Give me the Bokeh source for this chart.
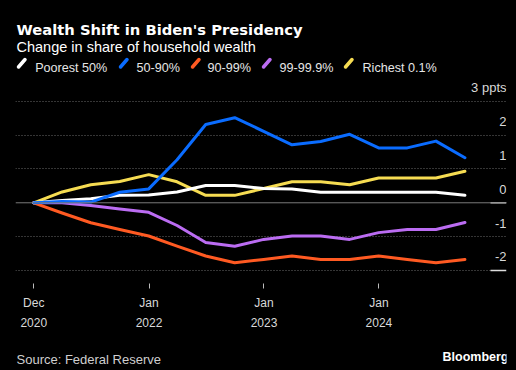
import numpy as np
import pandas as pd
from bokeh.plotting import figure
from bokeh.layouts import column
from bokeh.models import (Range1d, FixedTicker, Grid, Span, Label, Arrow,
                          DatetimeTickFormatter, ColumnDataSource, LabelSet)
from bokeh.core.properties import value
from bokeh.embed import file_html
from bokeh.resources import INLINE

# ---------------- data ----------------
quarters = ["2020-12-31", "2021-03-31", "2021-06-30", "2021-09-30",
            "2021-12-31", "2022-03-31", "2022-06-30", "2022-09-30",
            "2022-12-31", "2023-03-31", "2023-06-30", "2023-09-30",
            "2023-12-31", "2024-03-31", "2024-06-30", "2024-09-30"]

series_names = ["Poorest 50%", "50-90%", "90-99%", "99-99.9%", "Richest 0.1%"]

poorest_50 = [0, 0.07, 0.12, 0.22, 0.23, 0.32, 0.51, 0.51, 0.42, 0.41,
              0.31, 0.31, 0.31, 0.31, 0.31, 0.22]
p50_90 = [0, 0.04, 0.02, 0.31, 0.41, 1.27, 2.31, 2.51, 2.11, 1.71,
          1.81, 2.02, 1.62, 1.62, 1.82, 1.33]
p90_99 = [0, -0.30, -0.59, -0.79, -0.98, -1.28, -1.57, -1.77, -1.67, -1.57,
          -1.67, -1.67, -1.57, -1.67, -1.77, -1.67]
p99_999 = [0, 0, -0.08, -0.18, -0.28, -0.67, -1.17, -1.28, -1.08, -0.98,
           -0.98, -1.08, -0.88, -0.79, -0.79, -0.58]
richest_01 = [0, 0.32, 0.53, 0.63, 0.83, 0.62, 0.22, 0.22, 0.42, 0.62,
              0.62, 0.53, 0.73, 0.73, 0.73, 0.93]

y_ticks = [-2, -1, 0, 1, 2, 3]
y_tick_labels = ["-2", "-1", "0", "1", "2", "3 ppts"]
x_tick_dates = ["2020-12-31", "2022-01-01", "2023-01-01", "2024-01-01"]

# ---------------- styles ----------------
colors = ["#ffffff", "#0a6cff", "#ff5a22", "#bb6cf2", "#f6dc52"]
BG = "#000000"
FONT = "Liberation Sans"
W = 516


def blank(height):
    f = figure(width=W, height=height, x_axis_location=None, y_axis_location=None,
               output_backend="svg", toolbar_location=None,
               x_range=Range1d(0, 1), y_range=Range1d(0, 1),
               min_border=0, background_fill_color=BG, border_fill_color=BG,
               outline_line_color=None)
    f.grid.visible = False
    return f


# ---------------- header ----------------
header = blank(80)
header.add_layout(Label(x=16, y=28.5, x_units="canvas", y_units="canvas",
                        text="Wealth Shift in Biden's Presidency",
                        text_font="DejaVu Sans", text_font_style="bold",
                        text_font_size="14.75px", text_color="#ffffff",
                        text_baseline="alphabetic"))
header.add_layout(Label(x=16, y=46, x_units="canvas", y_units="canvas",
                        text="Change in share of household wealth",
                        text_font=FONT, text_font_size="14.5px",
                        text_color="#ffffff", text_baseline="alphabetic"))
marker_x = [16, 118, 190, 261, 343]
text_x = [34.7, 136, 207, 279, 362]
for i, name in enumerate(series_names):
    header.add_layout(Arrow(end=None, x_start=marker_x[i] + 2, y_start=66.5,
                            x_end=marker_x[i] + 8.5, y_end=59,
                            start_units="canvas", end_units="canvas",
                            line_color=colors[i], line_width=3.5,
                            line_cap="round"))
    header.add_layout(Label(x=text_x[i], y=67.7, x_units="canvas", y_units="canvas",
                            text=name, text_font=FONT, text_font_size="12.6px",
                            text_color="#e6e6e6", text_baseline="alphabetic"))

# ---------------- main chart ----------------
dates = pd.to_datetime(quarters)
x_start = pd.Timestamp("2020-11-03")
x_end = pd.Timestamp("2025-02-09")

p = figure(width=W, height=258, x_axis_type="datetime", y_axis_location=None,
           output_backend="svg", toolbar_location=None,
           x_range=Range1d(x_start, x_end), y_range=Range1d(-2.381, 3.608),
           min_border_left=15, min_border_right=10, min_border_top=0,
           min_border_bottom=55,
           background_fill_color=BG, border_fill_color=BG,
           outline_line_color=None)

p.grid.visible = False
p.add_layout(Grid(dimension=1, ticker=FixedTicker(ticks=[t for t in y_ticks if t != 0]),
                  grid_line_color="#6a6a6a", grid_line_dash="1 2",
                  grid_line_width=1))
p.add_layout(Span(location=0, dimension="width", line_color="#7a7a7a",
                  line_width=1))

xa = p.xaxis[0]
xa.ticker = FixedTicker(ticks=[pd.Timestamp(d).value / 1e6 for d in x_tick_dates])
xa.formatter = DatetimeTickFormatter(days="%b\n%Y", months="%b\n%Y",
                                     years="%b\n%Y", hours="%b\n%Y")
xa.axis_line_color = None
xa.major_tick_line_color = "#bbbbbb"
xa.major_tick_in = 0
xa.major_tick_out = 5
xa.minor_tick_line_color = None
xa.major_label_text_color = "#d9d9d9"
xa.major_label_text_font = FONT
xa.major_label_text_font_size = "12px"
xa.major_label_standoff = 7
xa.major_label_text_line_height = 1.45

all_series = [poorest_50, p50_90, p90_99, p99_999, richest_01]
for idx in [4, 3, 2, 0, 1]:
    p.line(dates, all_series[idx], line_color=colors[idx], line_width=3,
           line_join="round", line_cap="round")

p.ray(x=[x_end, x_end], y=[0, -2], length=16, length_units="screen",
      angle=np.pi, line_color="#dddddd", line_width=1.5)

ysrc = ColumnDataSource(dict(x=[x_end] * len(y_ticks), y=y_ticks, text=y_tick_labels))
p.add_layout(LabelSet(x="x", y="y", text="text", source=ysrc, text_align="right",
                      text_baseline="middle", y_offset=13.6,
                      text_color="#d9d9d9", text_font=value(FONT),
                      text_font_size="13px"))

# ---------------- footer ----------------
footer = blank(32)
footer.add_layout(Label(x=16, y=20.5, x_units="canvas", y_units="canvas",
                        text="Source: Federal Reserve", text_font=FONT,
                        text_font_size="13px", text_color="#cfcfcf",
                        text_baseline="alphabetic"))
footer.add_layout(Label(x=508, y=18.5, x_units="canvas", y_units="canvas",
                        text="Bloomberg", text_font=FONT, text_font_style="bold",
                        text_font_size="12.5px", text_color="#ffffff",
                        text_align="right", text_baseline="alphabetic"))

layout = column(header, p, footer, spacing=0)
layout.styles = {"background-color": BG}

html = file_html(layout, INLINE)
html = html.replace("</head>", "<style>html,body{background:#000000;}</style></head>", 1)
open("out.html", "w").write(html)
